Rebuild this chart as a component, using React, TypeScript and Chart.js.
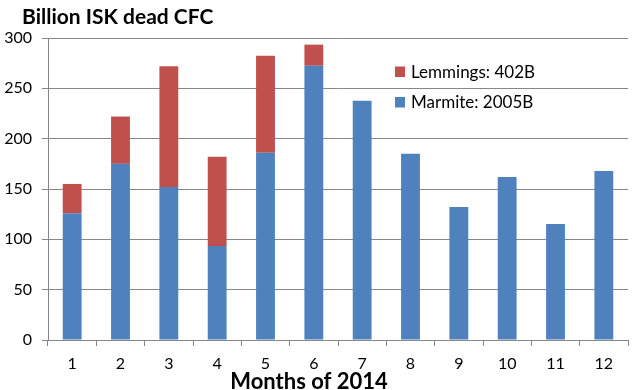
import React, { useEffect, useRef } from "react";
import { Chart, registerables } from "chart.js";

Chart.register(...registerables);

const months = ["1", "2", "3", "4", "5", "6", "7", "8", "9", "10", "11", "12"];
const marmite = [126, 175, 152, 93.5, 186, 272.4, 237.6, 185, 132, 162, 115.3, 168];
const lemmings = [29, 47, 120, 88.5, 96.4, 21, 0, 0, 0, 0, 0, 0];
const marmiteLabel = "Marmite: 2005B";
const lemmingsLabel = "Lemmings: 402B";
const chartTitle = "Billion ISK dead CFC";
const xAxisTitle = "Months of 2014";
const yMin = 0;
const yMax = 300;
const yStep = 50;

const BLUE = "#4F81BD";
const RED = "#C0504D";
const GRID = "#878787";
const FONT = "Lato, 'Open Sans', sans-serif";

const overlayPlugin = {
  id: "overlay",
  afterDraw(chart: any) {
    const ctx = chart.ctx as CanvasRenderingContext2D;
    ctx.save();
    ctx.fillStyle = "#000";
    ctx.textBaseline = "alphabetic";
    ctx.font = `bold 21px ${FONT}`;
    ctx.textAlign = "left";
    ctx.fillText(chartTitle, 22, 24);
    ctx.font = `bold 22px ${FONT}`;
    ctx.textAlign = "center";
    ctx.fillText(xAxisTitle, 309, 389);

    // legend (top item = top of stack)
    const items = [...chart.data.datasets].reverse();
    ctx.font = `17px ${FONT}`;
    ctx.textAlign = "left";
    items.forEach((ds: any, i: number) => {
      const base = 77.5 + i * 30.5;
      ctx.fillStyle = ds.backgroundColor;
      ctx.fillRect(395, base - 11, 10, 10.5);
      ctx.fillStyle = "#000";
      ctx.fillText(ds.label, 411, base);
    });
    ctx.restore();
  },
};

export default function App() {
  const ref = useRef<HTMLCanvasElement | null>(null);

  useEffect(() => {
    if (!ref.current) return;
    const chart = new Chart(ref.current, {
      type: "bar",
      data: {
        labels: months,
        datasets: [
          {
            label: marmiteLabel,
            data: marmite,
            backgroundColor: BLUE,
            borderWidth: 0,
            barPercentage: 0.39,
            categoryPercentage: 1,
          },
          {
            label: lemmingsLabel,
            data: lemmings,
            backgroundColor: RED,
            borderWidth: 0,
            barPercentage: 0.39,
            categoryPercentage: 1,
          },
        ],
      },
      options: {
        animation: false,
        responsive: false,
        devicePixelRatio: 1,
        layout: { padding: { top: 38, right: 4, left: 0, bottom: 0 } },
        plugins: {
          legend: { display: false },
          title: { display: false },
          tooltip: { enabled: false },
        },
        scales: {
          x: {
            stacked: true,
            grid: {
              display: true,
              drawOnChartArea: false,
              drawTicks: true,
              tickLength: 6,
              color: GRID,
              offset: true,
            },
            border: { color: GRID },
            ticks: {
              font: { family: FONT, size: 16 },
              color: "#000",
              padding: 8,
              maxRotation: 0,
              autoSkip: false,
            },
            afterFit: (s: any) => {
              s.height = 50;
            },
          },
          y: {
            stacked: true,
            min: yMin,
            max: yMax,
            ticks: {
              stepSize: yStep,
              font: { family: FONT, size: 16 },
              color: "#000",
              padding: 10,
            },
            grid: { color: GRID, tickLength: 6 },
            border: { color: GRID },
            afterFit: (s: any) => {
              s.width = 48;
            },
          },
        },
      },
      plugins: [overlayPlugin],
    } as any);
    return () => chart.destroy();
  }, []);

  return (
    <div style={{ position: "absolute", left: 0, top: 0, width: 632, height: 390, background: "#fff" }}>
      <canvas ref={ref} width={632} height={390} style={{ display: "block" }} />
    </div>
  );
}
